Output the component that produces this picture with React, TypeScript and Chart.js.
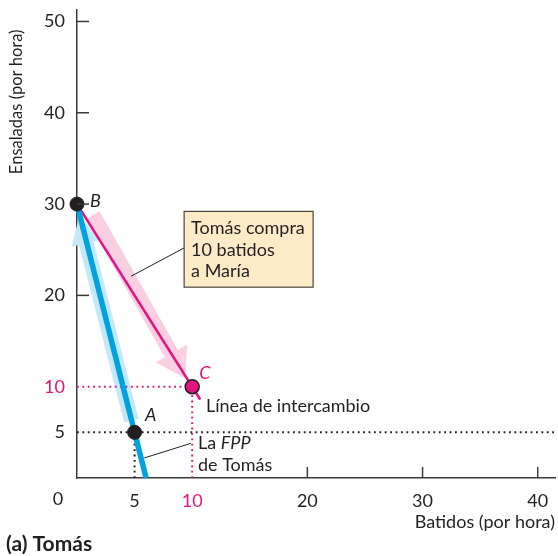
import React, { useEffect, useRef } from "react";
import { Chart, registerables } from "chart.js";

Chart.register(...registerables);

// ---- data ----
const xTickValues = [0, 5, 10, 20, 30, 40];
const yTickValues = [5, 10, 20, 30, 40, 50];
const xTickMarks = [20, 30, 40];
const yTickMarks = [20, 30, 40, 50];
const xMax = 41.5;
const yMax = 51.3;

const ppfLine = [{ x: 0, y: 30 }, { x: 6, y: 0 }];
const tradeLine = [{ x: 0, y: 30 }, { x: 10.7, y: 8.6 }];
const blackPoints = [{ x: 5, y: 5 }, { x: 0, y: 30 }];
const magentaPoints = [{ x: 10, y: 10 }];
const guide5H = [{ x: 0, y: 5 }, { x: 41.5, y: 5 }];
const guide5V = [{ x: 5, y: 0 }, { x: 5, y: 5 }];
const guide10H = [{ x: 0, y: 10 }, { x: 10, y: 10 }];
const guide10V = [{ x: 10, y: 0 }, { x: 10, y: 10 }];
const blueArrow = [{ x: 4.72, y: 6.3 }, { x: 0.2, y: 28.7 }];
const pinkArrow = [{ x: 1.39, y: 28.8 }, { x: 9.39, y: 10.95 }];

const boxLines = ["Tomás compra", "10 batidos", "a María"];

const MAG = "#e2137e";
const BLUE = "#00a2df";
const INK = "#231f20";
const FONT = "Lato, 'Open Sans', sans-serif";

function drawArrow(ctx, x, y, pts, color, w, hl, hw) {
  const x1 = x.getPixelForValue(pts[0].x);
  const y1 = y.getPixelForValue(pts[0].y);
  const x2 = x.getPixelForValue(pts[1].x);
  const y2 = y.getPixelForValue(pts[1].y);
  const dx = x2 - x1, dy = y2 - y1;
  const len = Math.hypot(dx, dy);
  const ux = dx / len, uy = dy / len;
  const nx = -uy, ny = ux;
  const bx = x2 - ux * hl, by = y2 - uy * hl;
  ctx.save();
  ctx.fillStyle = color;
  ctx.beginPath();
  ctx.moveTo(x1 + nx * w / 2, y1 + ny * w / 2);
  ctx.lineTo(bx + nx * w / 2, by + ny * w / 2);
  ctx.lineTo(bx + nx * hw / 2, by + ny * hw / 2);
  ctx.lineTo(x2, y2);
  ctx.lineTo(bx - nx * hw / 2, by - ny * hw / 2);
  ctx.lineTo(bx - nx * w / 2, by - ny * w / 2);
  ctx.lineTo(x1 - nx * w / 2, y1 - ny * w / 2);
  ctx.closePath();
  ctx.fill();
  ctx.restore();
}

const arrowsPlugin = {
  id: "arrows",
  beforeDatasetsDraw(chart) {
    const { ctx, scales } = chart;
    drawArrow(ctx, scales.x, scales.y, blueArrow, "#c4e8f8", 15, 28, 30);
    drawArrow(ctx, scales.x, scales.y, pinkArrow, "#f9cfe1", 15, 28, 36);
  },
};

const annotPlugin = {
  id: "annot",
  afterDraw(chart) {
    const { ctx, scales } = chart;
    const X = (v) => scales.x.getPixelForValue(v);
    const Y = (v) => scales.y.getPixelForValue(v);
    ctx.save();
    // inward tick marks
    ctx.strokeStyle = "#3a3a3a";
    ctx.lineWidth = 1.5;
    const ax = X(0), ay = Y(0);
    xTickMarks.forEach((v) => {
      ctx.beginPath();
      ctx.moveTo(X(v), ay);
      ctx.lineTo(X(v), ay - 11);
      ctx.stroke();
    });
    yTickMarks.forEach((v) => {
      ctx.beginPath();
      ctx.moveTo(ax, Y(v));
      ctx.lineTo(ax + 12, Y(v));
      ctx.stroke();
    });

    // origin label
    ctx.fillStyle = INK;
    ctx.font = `18px ${FONT}`;
    ctx.textAlign = "center";
    ctx.textBaseline = "middle";
    ctx.fillText("0", ax - 19, ay + 21);

    // axis titles
    ctx.font = `18px ${FONT}`;
    ctx.textAlign = "right";
    ctx.fillText("Batidos (por hora)", X(xMax), ay + 44);
    ctx.save();
    ctx.translate(17, Y(41.2));
    ctx.rotate(-Math.PI / 2);
    ctx.textAlign = "center";
    ctx.font = `16.5px ${FONT}`;
    ctx.fillText("Ensaladas (por hora)", 0, 0);
    ctx.restore();

    // panel title
    ctx.font = `bold 21px ${FONT}`;
    ctx.textAlign = "left";
    ctx.fillText("(a) Tomás", 6, 544);

    // point labels
    ctx.font = `italic 18px ${FONT}`;
    ctx.textAlign = "center";
    ctx.fillStyle = INK;
    ctx.fillText("A", X(6.4), Y(6.9));
    ctx.fillText("B", X(1.6), Y(30.3));
    ctx.fillStyle = MAG;
    ctx.fillText("C", X(11.1), Y(11.5));

    // leader lines
    ctx.strokeStyle = INK;
    ctx.lineWidth = 1;
    ctx.beginPath();
    ctx.moveTo(X(9.3), Y(25.2));
    ctx.lineTo(X(4.7), Y(22.1));
    ctx.moveTo(X(9.9), Y(3.8));
    ctx.lineTo(X(5.85), Y(2.2));
    ctx.stroke();

    // box
    const bx0 = X(9.3), bx1 = X(20.5), by0 = Y(29.2), by1 = Y(20.9);
    ctx.fillStyle = "#fdebc8";
    ctx.fillRect(bx0, by0, bx1 - bx0, by1 - by0);
    ctx.strokeStyle = "#4a4440";
    ctx.lineWidth = 1.2;
    ctx.strokeRect(bx0, by0, bx1 - bx0, by1 - by0);
    ctx.fillStyle = INK;
    ctx.font = `18px ${FONT}`;
    ctx.textAlign = "left";
    ctx.textBaseline = "middle";
    boxLines.forEach((t, i) => ctx.fillText(t, bx0 + 7, by0 + 17 + i * 21.5));

    // other labels
    ctx.fillText("Línea de intercambio", X(11.2), Y(7.9));
    const lx = X(10.5);
    ctx.fillText("La ", lx, Y(3.8));
    const w = ctx.measureText("La ").width;
    ctx.font = `italic 18px ${FONT}`;
    ctx.fillText("FPP", lx + w, Y(3.8));
    ctx.font = `18px ${FONT}`;
    ctx.fillText("de Tomás", lx, Y(1.4));
    ctx.restore();
  },
};

function lineDs(data, color, width, dash) {
  return {
    data,
    showLine: true,
    borderColor: color,
    borderWidth: width,
    borderDash: dash || [],
    pointRadius: 0,
    pointHoverRadius: 0,
    fill: false,
    clip: false,
  };
}

export default function App() {
  const ref = useRef(null);
  useEffect(() => {
    document.body.style.margin = "0";
    const chart = new Chart(ref.current, {
      type: "scatter",
      data: {
        datasets: [
          {
            data: blackPoints,
            pointRadius: 7,
            pointBackgroundColor: INK,
            pointBorderColor: INK,
            pointBorderWidth: 1,
            showLine: false,
            clip: false,
          },
          {
            data: magentaPoints,
            pointRadius: 7,
            pointBackgroundColor: MAG,
            pointBorderColor: INK,
            pointBorderWidth: 1.5,
            showLine: false,
            clip: false,
          },
          lineDs(ppfLine, BLUE, 5.5),
          lineDs(tradeLine, MAG, 2.5),
          lineDs(guide5H, INK, 2, [1.8, 3.6]),
          lineDs(guide5V, INK, 2, [1.8, 3.6]),
          lineDs(guide10H, MAG, 2, [1.8, 3.6]),
          lineDs(guide10V, MAG, 2, [1.8, 3.6]),
        ],
      },
      options: {
        responsive: false,
        animation: false,
        events: [],
        layout: { autoPadding: false, padding: { top: 9.6, right: 3, left: 0, bottom: 0 } },
        plugins: { legend: { display: false }, tooltip: { enabled: false } },
        scales: {
          x: {
            type: "linear",
            min: 0,
            max: xMax,
            grid: { display: false, drawTicks: false },
            border: { display: true, color: "#3a3a3a", width: 1.5 },
            afterBuildTicks: (s) => {
              s.ticks = xTickValues.map((v) => ({ value: v }));
            },
            afterFit: (s) => {
              s.height = 78;
              s.paddingLeft = 0;
              s.paddingRight = 0;
            },
            ticks: {
              autoSkip: false,
              maxRotation: 0,
              padding: 12,
              font: { family: FONT, size: 18 },
              color: (c) => (c.tick && c.tick.value === 10 ? MAG : INK),
              callback: (v) => (v === 0 ? "" : String(v)),
            },
          },
          y: {
            type: "linear",
            min: 0,
            max: yMax,
            grid: { display: false, drawTicks: false },
            border: { display: true, color: "#3a3a3a", width: 1.5 },
            afterBuildTicks: (s) => {
              s.ticks = yTickValues.map((v) => ({ value: v }));
            },
            afterFit: (s) => {
              s.width = 77;
              s.paddingTop = 0;
              s.paddingBottom = 0;
            },
            ticks: {
              autoSkip: false,
              padding: 12,
              font: { family: FONT, size: 18 },
              color: (c) => (c.tick && c.tick.value === 10 ? MAG : INK),
              callback: (v) => String(v),
            },
          },
        },
      },
      plugins: [arrowsPlugin, annotPlugin],
    });
    return () => chart.destroy();
  }, []);
  return (
    <div style={{ position: "absolute", left: 0, top: 0, width: 558, height: 556, background: "#fff" }}>
      <canvas ref={ref} width={558} height={556} style={{ display: "block" }} />
    </div>
  );
}
